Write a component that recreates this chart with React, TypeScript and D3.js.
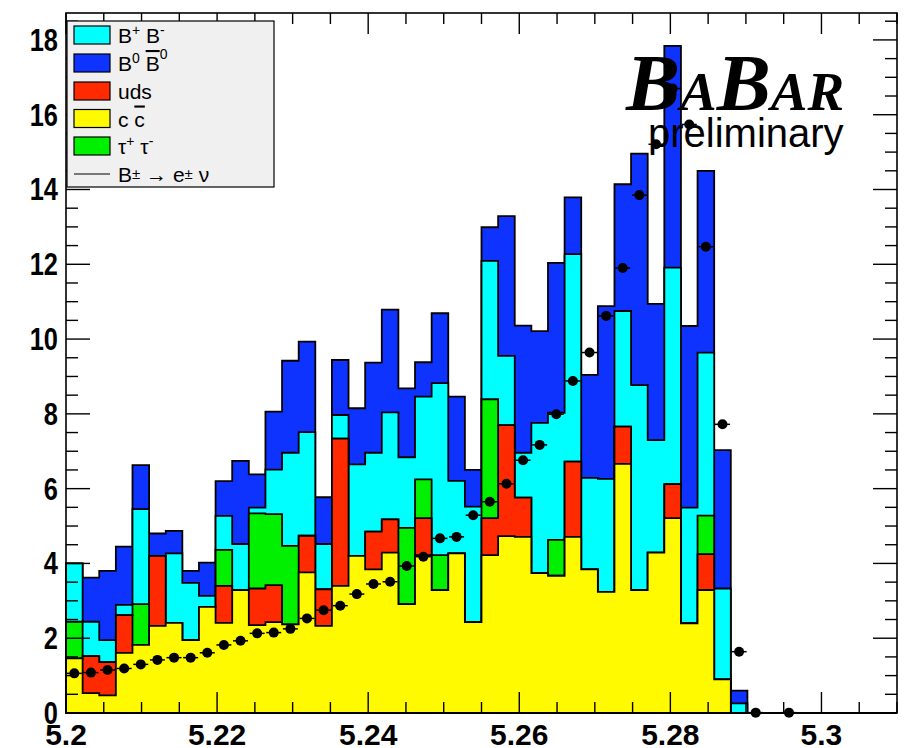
import React from 'react';
import * as d3 from 'd3';

const X_MIN = 5.2;
const X_MAX = 5.31;
const Y_MAX = 18.72;
const BIN_WIDTH = 0.0022;
const N_BINS = 50;

// stacked components (bottom to top)
const ccbar = [1.46,0.53,0.47,1.61,1.82,2.33,2.41,1.95,2.84,2.41,3.29,2.35,2.43,2.37,3.76,2.33,3.40,4.20,3.84,4.29,2.91,4.22,3.29,4.27,2.43,4.22,4.73,4.71,3.74,3.67,4.71,3.84,3.24,6.66,3.29,4.29,5.21,2.40,3.29,0.90,0,0,0,0,0,0,0,0,0,0];
const uds = [0,0.99,0.89,1.01,0,1.87,0,0,0,0.99,0,0.98,0.99,0,0.98,0.98,3.94,0,1.01,0.89,0,0.99,0,0,0,0.99,2.97,1.05,0,0,2.01,0,0,1.00,0,0,0.91,0,0.96,0,0,0,0,0,0,0,0,0,0,0];
const tautau = [0.98,0,0,0,1.09,0,0,0,0,0.96,0,2.01,1.90,2.10,0,0,0,0,0,0,2.04,1.04,0.93,0,0,3.18,0,0,0,0.96,0,0,0,0,0,0,0,0,1.03,0,0,0,0,0,0,0,0,0,0,0];
const bpbm = [1.56,0.92,0.59,0.27,2.54,0,1.86,1.53,0.29,0.91,1.23,0.15,1.19,2.49,2.77,1.21,0.63,2.45,2.11,2.86,1.89,2.21,4.60,1.94,3.09,3.70,1.85,1.20,4.02,3.40,5.55,2.45,3.02,3.09,5.48,3.01,5.79,3.09,4.36,2.43,0.26,0,0,0,0,0,0,0,0,0];
const b0b0 = [0,1.18,1.85,1.56,1.18,0.60,0.60,0.32,0.89,0.93,2.22,0.89,1.55,2.46,2.42,1.25,1.47,1.50,2.41,2.75,1.84,0.92,1.87,2.25,0.98,0.90,3.74,3.40,2.45,4.01,1.52,2.75,4.62,3.39,6.19,3.64,5.93,4.86,4.86,3.70,0.34,0,0,0,0,0,0,0,0,0];

// signal B -> e nu (points)
const signal: (number | null)[] = [1.06,1.08,1.15,1.19,1.30,1.42,1.48,1.48,1.61,1.82,1.93,2.13,2.15,2.25,2.53,2.75,2.87,3.18,3.45,3.51,3.93,4.18,4.67,4.71,5.29,5.65,6.13,6.76,7.17,7.99,8.88,9.64,10.62,11.90,13.85,15.21,16.70,15.74,12.47,7.72,1.64,0.01,null,0.01];

const xTickValues = [5.2, 5.22, 5.24, 5.26, 5.28, 5.3];
const xTickLabels = ['5.2', '5.22', '5.24', '5.26', '5.28', '5.3'];
const yTickValues = [0, 2, 4, 6, 8, 10, 12, 14, 16, 18];
const yTickLabels = ['0', '2', '4', '6', '8', '10', '12', '14', '16', '18'];

const stackOrder = [ccbar, uds, tautau, bpbm, b0b0];
const stackColors = ['#fffa00', '#ff2a00', '#00f000', '#00ffff', '#0f33ff'];

const FONT = "'Liberation Sans', Arial, Helvetica, sans-serif";

export default function App() {
  const x = d3.scaleLinear().domain([X_MIN, X_MAX]).range([66, 897]);
  const y = d3.scaleLinear().domain([0, Y_MAX]).range([713, 13]);
  const [x0, x1] = x.range();
  const [y0, y1] = y.range();

  // cumulative stacks
  const cums: number[][] = [];
  stackOrder.forEach((arr, k) => {
    cums.push(arr.map((v, i) => v + (k > 0 ? cums[k - 1][i] : 0)));
  });

  const line = d3.line<[number, number]>().curve(d3.curveStepAfter);
  const stepPath = (vals: number[]) => {
    const pts: [number, number][] = [[x(X_MIN), y(0)]];
    vals.forEach((v, i) => pts.push([x(X_MIN + i * BIN_WIDTH), y(v)]));
    pts.push([x(X_MIN + N_BINS * BIN_WIDTH), y(vals[vals.length - 1])]);
    pts.push([x(X_MIN + N_BINS * BIN_WIDTH), y(0)]);
    return line(pts) + 'Z';
  };

  const xMinor = d3.range(0, 23).map((i) => X_MIN + i * 0.005).filter((v) => v <= X_MAX + 1e-9);
  const yMinor = d3.range(0, 38).map((i) => i * 0.5).filter((v) => v <= Y_MAX);
  const isMajorX = (v: number) => Math.abs(Math.round(v / 0.02) * 0.02 - v) < 1e-6;
  const isMajorY = (v: number) => Math.abs(v % 2) < 1e-6;

  const legendRows = [35, 63, 91, 118.5, 146, 174];

  return (
    <svg width={905} height={748} style={{ position: 'absolute', left: 0, top: 0, background: '#fff' }}>
      <rect x={0} y={0} width={905} height={748} fill="#fff" />
      {/* stacked histograms: draw largest first */}
      {cums.slice().reverse().map((c, k) => (
        <path key={k} d={stepPath(c)} fill={stackColors[stackColors.length - 1 - k]} stroke="#000" strokeWidth={1.8} strokeLinejoin="miter" />
      ))}

      {/* frame */}
      <rect x={x0} y={y1} width={x1 - x0} height={y0 - y1} fill="none" stroke="#000" strokeWidth={1.6} />

      {/* x ticks bottom & top */}
      {xMinor.map((v, i) => {
        const len = isMajorX(v) ? 21 : 11;
        return (
          <g key={'xt' + i}>
            <line x1={x(v)} x2={x(v)} y1={y0} y2={y0 - len} stroke="#000" strokeWidth={1.4} />
            <line x1={x(v)} x2={x(v)} y1={y1} y2={y1 + len} stroke="#000" strokeWidth={1.4} />
          </g>
        );
      })}
      {/* y ticks left & right */}
      {yMinor.map((v, i) => {
        const len = isMajorY(v) ? 24 : 12;
        return (
          <g key={'yt' + i}>
            <line x1={x0} x2={x0 + len} y1={y(v)} y2={y(v)} stroke="#000" strokeWidth={1.4} />
            <line x1={x1} x2={x1 - len} y1={y(v)} y2={y(v)} stroke="#000" strokeWidth={1.4} />
          </g>
        );
      })}

      {/* x labels */}
      {xTickValues.map((v, i) => (
        <text key={'xl' + i} x={x(v)} y={745} textAnchor="middle" fontFamily={FONT} fontWeight="bold" fontSize={30}>
          {xTickLabels[i]}
        </text>
      ))}
      {/* y labels */}
      {yTickValues.map((v, i) => (
        <g key={'yl' + i} transform={`translate(58,${y(v) + 11}) scale(0.82,1)`}>
          <text x={0} y={0} textAnchor="end" fontFamily={FONT} fontWeight="bold" fontSize={31}>
            {yTickLabels[i]}
          </text>
        </g>
      ))}

      {/* BaBar logo */}
      <text x={626} y={110} fontFamily="'Liberation Serif', 'Times New Roman', serif" fontWeight="bold" fontStyle="italic" fill="#000">
        <tspan fontSize={81}>B</tspan>
        <tspan fontSize={55}>A</tspan>
        <tspan fontSize={81}>B</tspan>
        <tspan fontSize={55}>AR</tspan>
      </text>
      <text x={648} y={147} fontFamily={FONT} fontSize={40} fill="#000">preliminary</text>

      {/* signal points */}
      {signal.map((v, i) => {
        if (v === null) return null;
        const cx = x(X_MIN + (i + 0.5) * BIN_WIDTH);
        const cy = y(v);
        return (
          <g key={'s' + i}>
            <line x1={cx - 7.5} x2={cx + 7.5} y1={cy} y2={cy} stroke="#000" strokeWidth={1.5} />
            <circle cx={cx} cy={cy} r={5} fill="#000" />
          </g>
        );
      })}

      {/* legend */}
      <rect x={67} y={21} width={207} height={166} fill="#f0f0f0" stroke="#000" strokeWidth={1.2} />
      {[3, 4, 1, 0, 2].map((ci, r) => (
        <rect key={'lb' + r} x={74} y={legendRows[r] - 9} width={36} height={18} fill={stackColors[ci]} stroke="#000" strokeWidth={1.2} />
      ))}
      <line x1={74} x2={110} y1={legendRows[5]} y2={legendRows[5]} stroke="#000" strokeWidth={1.2} />
      <g fontFamily={FONT} fontSize={21} fill="#000">
        <text x={118} y={legendRows[0] + 8}>
          B<tspan fontSize={14} dy={-8}>+</tspan><tspan dy={8}> B</tspan><tspan fontSize={14} dy={-8}>-</tspan>
        </text>
        <text x={118} y={legendRows[1] + 8}>
          B<tspan fontSize={14} dy={-8}>0</tspan><tspan dy={8}> </tspan><tspan style={{ textDecoration: 'overline' }}>B</tspan><tspan fontSize={14} dy={-12}>0</tspan>
        </text>
        <text x={118} y={legendRows[2] + 8}>uds</text>
        <text x={118} y={legendRows[3] + 8}>
          c <tspan style={{ textDecoration: 'overline' }}>c</tspan>
        </text>
        <text x={118} y={legendRows[4] + 8}>
          τ<tspan fontSize={14} dy={-8}>+</tspan><tspan dy={8}> τ</tspan><tspan fontSize={14} dy={-8}>-</tspan>
        </text>
        <text x={118} y={legendRows[5] + 8}>
          B<tspan fontSize={15} dy={-3}>±</tspan><tspan dy={3}> → e</tspan><tspan fontSize={15} dy={-3}>±</tspan><tspan dy={3}> ν</tspan>
        </text>
      </g>
    </svg>
  );
}
